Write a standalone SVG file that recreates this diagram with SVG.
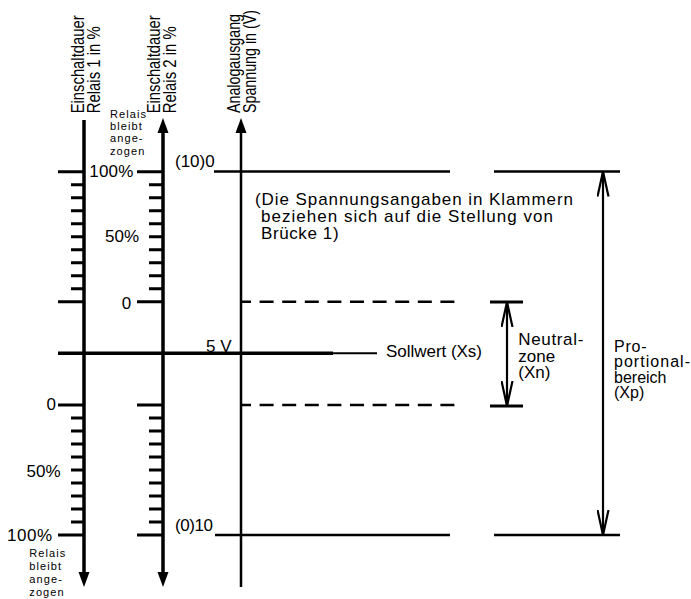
<svg xmlns="http://www.w3.org/2000/svg" width="691" height="599" viewBox="0 0 691 599">
<style>
text { font-family: "Liberation Sans", Arial, Helvetica, sans-serif; fill:#000; }
.t17 { font-size:17px; }
.t16 { font-size:16px; }
.rot { font-size:18px; }
.sm { font-size:11px; letter-spacing:1.1px; }
.ax { stroke:#000; stroke-width:3.5; fill:none; }
.ax3 { stroke:#000; stroke-width:2.5; fill:none; }
.tk { stroke:#000; stroke-width:3; fill:none; }
.ln { stroke:#000; stroke-width:2.5; fill:none; }
.dash { stroke:#000; stroke-width:2.5; fill:none; stroke-dasharray:14 8.6; stroke-dashoffset:4; }
.dim { stroke:#000; stroke-width:2.2; fill:none; }
</style>
<defs>
<marker id="ah" markerUnits="userSpaceOnUse" markerWidth="16" markerHeight="12" refX="0" refY="6" orient="auto-start-reverse" viewBox="0 0 16 12">
<path d="M0,0.5 L15,6 L0,11.5 Z" fill="#000"/>
</marker>
<marker id="dh" markerUnits="userSpaceOnUse" markerWidth="27" markerHeight="13" refX="25" refY="6.5" orient="auto-start-reverse" viewBox="0 0 27 13">
<path d="M0,1 L25,6.5 L0,12" fill="none" stroke="#000" stroke-width="2.2"/>
</marker>
</defs>

<g id="axis-relais1">
<text class="rot" transform="translate(83.5,113.3) rotate(-90) scale(0.823,1)">Einschaltdauer</text>
<text class="rot" transform="translate(99.5,113.3) rotate(-90) scale(0.828,1)">Relais 1 in %</text>
<path class="ax" d="M84,120 L84,572" marker-end="url(#ah)"/>
<path class="tk" d="M58,171.7 H84 M58,301.7 H84 M58,405 H84 M58,535 H84"/>
<path class="tk" d="M71,184.7 H84 M71,197.7 H84 M71,210.7 H84 M71,223.7 H84 M71,236.7 H84 M71,249.7 H84 M71,262.7 H84 M71,275.7 H84 M71,288.7 H84"/>
<path class="tk" d="M71,418 H84 M71,431 H84 M71,444 H84 M71,457 H84 M71,470 H84 M71,483 H84 M71,496 H84 M71,509 H84 M71,522 H84"/>
<text class="t17" x="46.5" y="410">0</text>
<text class="t17" x="26.5" y="477">50%</text>
<text class="t17" x="7" y="541" textLength="45">100%</text>
<text class="sm" x="29.3" y="556.7">Relais</text>
<text class="sm" x="29.3" y="570">bleibt</text>
<text class="sm" x="29.3" y="582.7">ange-</text>
<text class="sm" x="29.3" y="596">zogen</text>
</g>

<g id="axis-relais2">
<text class="rot" transform="translate(160,113.3) rotate(-90) scale(0.823,1)">Einschaltdauer</text>
<text class="rot" transform="translate(176,113.3) rotate(-90) scale(0.828,1)">Relais 2 in %</text>
<path class="ax" d="M163,133 L163,572" marker-start="url(#ah)" marker-end="url(#ah)"/>
<path class="tk" d="M137,171.7 H163 M137,301.7 H163 M137,405 H163 M137,535 H163"/>
<path class="tk" d="M149,184.7 H163 M149,197.7 H163 M149,210.7 H163 M149,223.7 H163 M149,236.7 H163 M149,249.7 H163 M149,262.7 H163 M149,275.7 H163 M149,288.7 H163"/>
<path class="tk" d="M149,418 H163 M149,431 H163 M149,444 H163 M149,457 H163 M149,470 H163 M149,483 H163 M149,496 H163 M149,509 H163 M149,522 H163"/>
<text class="sm" x="110" y="117.5">Relais</text>
<text class="sm" x="110" y="130">bleibt</text>
<text class="sm" x="110" y="142">ange-</text>
<text class="sm" x="110" y="155">zogen</text>
<text class="t17" x="89.3" y="177" textLength="44">100%</text>
<text class="t17" x="105" y="241.7">50%</text>
<text class="t17" x="121.7" y="308.5">0</text>
</g>

<g id="axis-analog">
<text class="rot" transform="translate(239.5,113) rotate(-90) scale(0.792,1)">Analogausgang</text>
<text class="rot" transform="translate(256,113) rotate(-90) scale(0.792,1)">Spannung in (V)</text>
<path class="ax3" d="M241,133 L241,587" marker-start="url(#ah)"/>
<text class="t17" x="175" y="166.7">(10)0</text>
<text class="t17" x="175" y="531" textLength="38">(0)10</text>
<text class="t17" x="206" y="351.7">5 V</text>
</g>

<g id="connectors">
<path class="ln" d="M214,171.5 H450"/>
<path class="dash" d="M241,301.7 H457"/>
<path class="dash" d="M241,405 H457"/>
<path class="ln" d="M215,535 H450"/>
<path class="ax" d="M58,353.3 H333"/>
<path stroke="#000" stroke-width="2" d="M332,353.3 H377"/>
</g>

<g id="sollwert">
<text class="t17" x="386" y="357.3" textLength="96">Sollwert (Xs)</text>
</g>

<g id="note">
<text class="t17" x="255" y="205" textLength="318">(Die Spannungsangaben in Klammern</text>
<text class="t17" x="261" y="222" textLength="292">beziehen sich auf die Stellung von</text>
<text class="t17" x="261" y="239" textLength="77.6">Brücke 1)</text>
</g>

<g id="neutralzone">
<path class="tk" d="M490,302 H523 M490,406 H523"/>
<path class="dim" d="M507,302 V406" marker-start="url(#dh)" marker-end="url(#dh)"/>
<text class="t17" x="518.3" y="345" textLength="65">Neutral-</text>
<text class="t17" x="518.3" y="362">zone</text>
<text class="t17" x="518.3" y="378">(Xn)</text>
</g>

<g id="proportional">
<path class="ln" d="M494,171.5 H620 M494,535 H620"/>
<path class="dim" d="M603,171.5 V535" marker-start="url(#dh)" marker-end="url(#dh)"/>
<text class="t16" x="614" y="351.5" textLength="32.5">Pro-</text>
<text class="t16" x="614" y="367" textLength="76">portional-</text>
<text class="t16" x="614" y="382.5">bereich</text>
<text class="t16" x="614" y="398">(Xp)</text>
</g>
</svg>
